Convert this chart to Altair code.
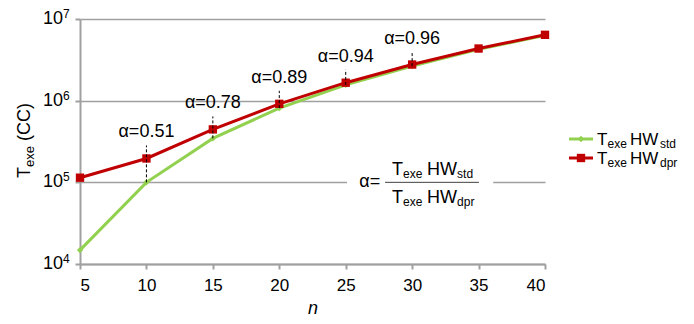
import altair as alt
import pandas as pd

FONT = "Liberation Sans"

# ---- data ----
n_values = [5, 10, 15, 20, 25, 30, 35, 40]
texe_hw_std = [1.48e4, 1.0e5, 3.45e5, 8.1e5, 1.56e6, 2.65e6, 4.25e6, 6.3e6]
texe_hw_dpr = [1.14e5, 1.96e5, 4.45e5, 9.15e5, 1.66e6, 2.77e6, 4.35e6, 6.4e6]

alpha_n = [10, 15, 20, 25, 30]
alpha_vals = [0.51, 0.78, 0.89, 0.94, 0.96]

decades = [1e4, 1e5, 1e6, 1e7]
exponents = ["4", "5", "6", "7"]
x_ticks = [5, 10, 15, 20, 25, 30, 35, 40]

GREEN = "#92d050"
RED = "#c00000"
GRID = "#a0a0a0"

std_df = pd.DataFrame({"n": n_values, "t": texe_hw_std})
dpr_df = pd.DataFrame({"n": n_values, "t": texe_hw_dpr})
alpha_df = pd.DataFrame({
    "n": alpha_n,
    "lo": [texe_hw_std[n_values.index(v)] for v in alpha_n],
    "hi": [texe_hw_dpr[n_values.index(v)] for v in alpha_n],
    "label": ["α=%.2f" % a for a in alpha_vals],
})
dec_df = pd.DataFrame({"v": decades, "e": exponents})
one = alt.Data(values=[{"k": 0}])

xscale = alt.Scale(domain=[5, 40], nice=False, zero=False)
yscale = alt.Scale(type="log", domain=[1e4, 1e7], nice=False)

X = alt.X("n:Q", scale=xscale,
          axis=alt.Axis(values=x_ticks, grid=False, title="n",
                        titleFontStyle="italic", titleFontWeight="normal",
                        titleFontSize=18, titleFont=FONT, titlePadding=6,
                        labelFont=FONT, labelFontSize=17, labelColor="black",
                        labelPadding=8, tickSize=5, tickWidth=2, tickColor=GRID,
                        domainColor=GRID, domainWidth=2))
Y = alt.Y("t:Q", scale=yscale,
          axis=alt.Axis(values=decades, grid=True, gridColor=GRID, gridWidth=1.7,
                        labels=False, title=None, tickSize=5, tickWidth=2,
                        tickColor=GRID, domainColor=GRID, domainWidth=2))


def piece(text, x, y, dx=0, dy=0, size=18, align="left", baseline="alphabetic",
          angle=0, color="black"):
    return alt.Chart(one).mark_text(
        text=text, dx=dx, dy=dy, fontSize=size, align=align, baseline=baseline,
        angle=angle, font=FONT, color=color).encode(x=x, y=y)


def dx_(v):
    return alt.X(datum=v, type="quantitative", scale=xscale)


def dy_(v):
    return alt.Y(datum=v, type="quantitative", scale=yscale)


# ---- main series ----
green_line = alt.Chart(std_df).mark_line(color=GREEN, strokeWidth=3).encode(x=X, y=Y)
green_pts = alt.Chart(std_df).mark_point(shape="diamond", filled=True, size=40,
                                         color=GREEN, opacity=1).encode(x="n:Q", y="t:Q")
red_line = alt.Chart(dpr_df).mark_line(color=RED, strokeWidth=3).encode(x="n:Q", y="t:Q")
red_pts = alt.Chart(dpr_df).mark_square(size=70, color=RED, opacity=1).encode(x="n:Q", y="t:Q")

# ---- alpha annotations ----
alpha_rules = alt.Chart(alpha_df).mark_rule(
    color="black", strokeWidth=1, strokeDash=[3, 2], y2Offset=-13
).encode(x="n:Q", y="lo:Q", y2="hi:Q")
alpha_text = alt.Chart(alpha_df).mark_text(
    font=FONT, fontSize=18, dy=-26, baseline="middle", color="black"
).encode(x="n:Q", y="hi:Q", text="label:N")

# ---- y tick labels with superscripts ----
ylab_base = alt.Chart(dec_df).mark_text(
    text="10", font=FONT, fontSize=18, align="right", baseline="middle", color="black"
).encode(x=alt.value(-17), y=alt.Y("v:Q", scale=yscale))
ylab_exp = alt.Chart(dec_df).mark_text(
    font=FONT, fontSize=12, align="left", baseline="middle", dy=-5, color="black"
).encode(x=alt.value(-17), y=alt.Y("v:Q", scale=yscale), text="e:N")

# ---- y axis title: T_exe (CC) ----
ytitle = [
    piece("T", alt.value(-55), alt.value(159), dx=0, dy=0, size=18, baseline="middle", angle=270),
    piece("exe", alt.value(-55), alt.value(159), dx=11, dy=5, size=13, baseline="middle", angle=270),
    piece("(CC)", alt.value(-55), alt.value(159), dx=37, dy=0, size=18, baseline="middle", angle=270),
]

# ---- formula on 1e5 gridline ----
gap = alt.Chart(one).mark_rule(color="white", strokeWidth=5).encode(
    x=dx_(25.1), x2=alt.X2(datum=36.1), y=dy_(1e5))
frac_line = alt.Chart(one).mark_rule(color="#404040", strokeWidth=1).encode(
    x=dx_(27.96), x2=alt.X2(datum=35.03), y=dy_(1e5))
fx, fy = dx_(31.5), dy_(1e5)
formula = [
    piece("α=", dx_(27.6), fy, size=18, align="right", baseline="middle"),
    # numerator
    piece("T", fx, fy, dx=-40, dy=-7, size=18),
    piece("exe", fx, fy, dx=-29, dy=-4, size=12),
    piece("HW", fx, fy, dx=-5, dy=-7, size=18),
    piece("std", fx, fy, dx=25, dy=-4, size=12),
    # denominator
    piece("T", fx, fy, dx=-40, dy=21, size=18),
    piece("exe", fx, fy, dx=-29, dy=24, size=12),
    piece("HW", fx, fy, dx=-5, dy=21, size=18),
    piece("dpr", fx, fy, dx=25, dy=24, size=12),
]

# ---- custom legend ----
legend = []
for (yy, col, shp, sz, sub) in [(120, GREEN, "diamond", 40, "std"), (139, RED, "square", 70, "dpr")]:
    legend.append(alt.Chart(one).mark_rule(color=col, strokeWidth=3).encode(
        x=alt.value(489), x2=alt.value(513), y=alt.value(yy)))
    legend.append(alt.Chart(one).mark_point(shape=shp, filled=True, size=sz, color=col, opacity=1).encode(
        x=alt.value(501), y=alt.value(yy)))
    legend.append(piece("T", alt.value(517), alt.value(yy + 6), size=17))
    legend.append(piece("exe", alt.value(517), alt.value(yy + 6), dx=10.5, dy=3, size=12))
    legend.append(piece("HW", alt.value(517), alt.value(yy + 6), dx=33, size=17))
    legend.append(piece(sub, alt.value(517), alt.value(yy + 6), dx=63, dy=3, size=12))

chart = alt.layer(
    green_line, gap, frac_line, green_pts, red_line, red_pts,
    alpha_rules, alpha_text, ylab_base, ylab_exp, *ytitle, *formula, *legend
).properties(
    width=465, height=245,
    autosize=alt.AutoSizeParams(type="none"),
    padding={"left": 72, "top": 11, "right": 141, "bottom": 52},
).configure_view(stroke=None)

chart.save("out.html", embed_options={"renderer": "svg", "actions": False})
